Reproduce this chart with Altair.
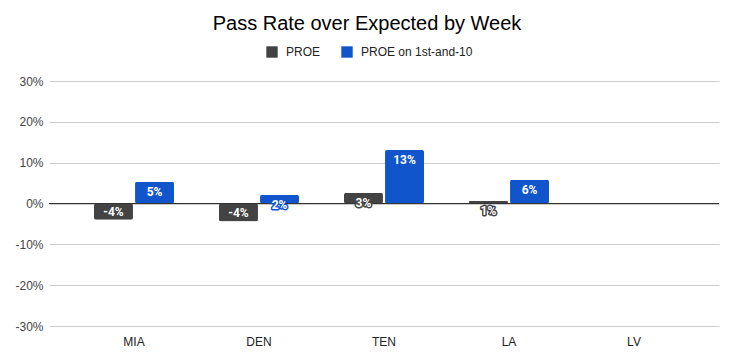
import altair as alt
import pandas as pd

teams = ["MIA", "DEN", "TEN", "LA", "LV"]
series_names = ["PROE", "PROE on 1st-and-10"]
proe = [-0.040, -0.044, 0.026, 0.006, None]
proe_1st10 = [0.053, 0.021, 0.131, 0.058, None]
series_colors = ["#434343", "#1155cc"]
y_ticks = [-0.3, -0.2, -0.1, 0.0, 0.1, 0.2, 0.3]

rows = []
for t, a, b in zip(teams, proe, proe_1st10):
    for s, v in zip(series_names, [a, b]):
        if v is not None:
            rows.append({"team": t, "series": s, "value": v,
                         "label": f"{round(v * 100):d}%"})
df = pd.DataFrame(rows)
zero = pd.DataFrame({"z": [0.0]})

FONT = "Arial"

x = alt.X("team:N",
          scale=alt.Scale(domain=teams, paddingInner=0.36, paddingOuter=0.36),
          axis=alt.Axis(title=None, labelAngle=0, domain=False, ticks=False,
                        grid=False, labelPadding=10, labelFont=FONT,
                        labelFontSize=12, labelColor="#222222"))
xo = alt.XOffset("series:N",
                 scale=alt.Scale(domain=series_names, paddingInner=0.05, paddingOuter=0))
y = alt.Y("value:Q",
          scale=alt.Scale(domain=[-0.3, 0.3], nice=False, zero=False),
          axis=alt.Axis(title=None, values=y_ticks, domain=False, ticks=False,
                        labelExpr="replace(format(datum.value, '.0%'), '\u2212', '-')",
                        gridColor="#cccccc", labelPadding=6, labelFont=FONT,
                        labelFontSize=12, labelColor="#444444"))

base = alt.Chart(df)

bars = base.mark_bar(cornerRadius=2).encode(
    x=x, xOffset=xo, y=y,
    color=alt.Color("series:N",
                    scale=alt.Scale(domain=series_names, range=series_colors),
                    legend=alt.Legend(title=None, orient="none", legendX=217, legendY=-35,
                                      direction="horizontal", symbolType="square",
                                      symbolSize=130, symbolStrokeWidth=0,
                                      labelFont=FONT, labelFontSize=12,
                                      labelColor="#222222", columnPadding=20,
                                      labelOffset=8)),
)

rule = alt.Chart(zero).mark_rule(color="#333333", strokeWidth=1).encode(y="z:Q")

stroke_enc = alt.Stroke("series:N",
                        scale=alt.Scale(domain=series_names, range=series_colors),
                        legend=None)

def labels(cond, dy):
    src = base.transform_filter(cond)
    halo = src.mark_text(baseline="alphabetic", dy=dy, font="Roboto", fontSize=12,
                         fontWeight="bold", fill="white", strokeWidth=3,
                         strokeJoin="round").encode(
        x=x, xOffset=xo, y=y, stroke=stroke_enc, text="label:N")
    txt = src.mark_text(baseline="alphabetic", dy=dy, font="Roboto", fontSize=12,
                        fontWeight="bold", fill="white").encode(
        x=x, xOffset=xo, y=y, text="label:N")
    return [halo, txt]

layers = [bars, rule] + labels("datum.value >= 0", 14) + labels("datum.value < 0", -4)

chart = alt.layer(*layers).properties(
    width=670, height=245,
    padding={"left": 41, "top": 73, "right": 7, "bottom": 28},
    autosize="none",
    title=alt.TitleParams("Pass Rate over Expected by Week", font=FONT, fontSize=20,
                          fontWeight="normal", color="#000000", anchor="middle",
                          dx=-17, offset=12),
).configure_view(stroke=None)

chart.save("out.html", embed_options={"renderer": "svg", "actions": False})
